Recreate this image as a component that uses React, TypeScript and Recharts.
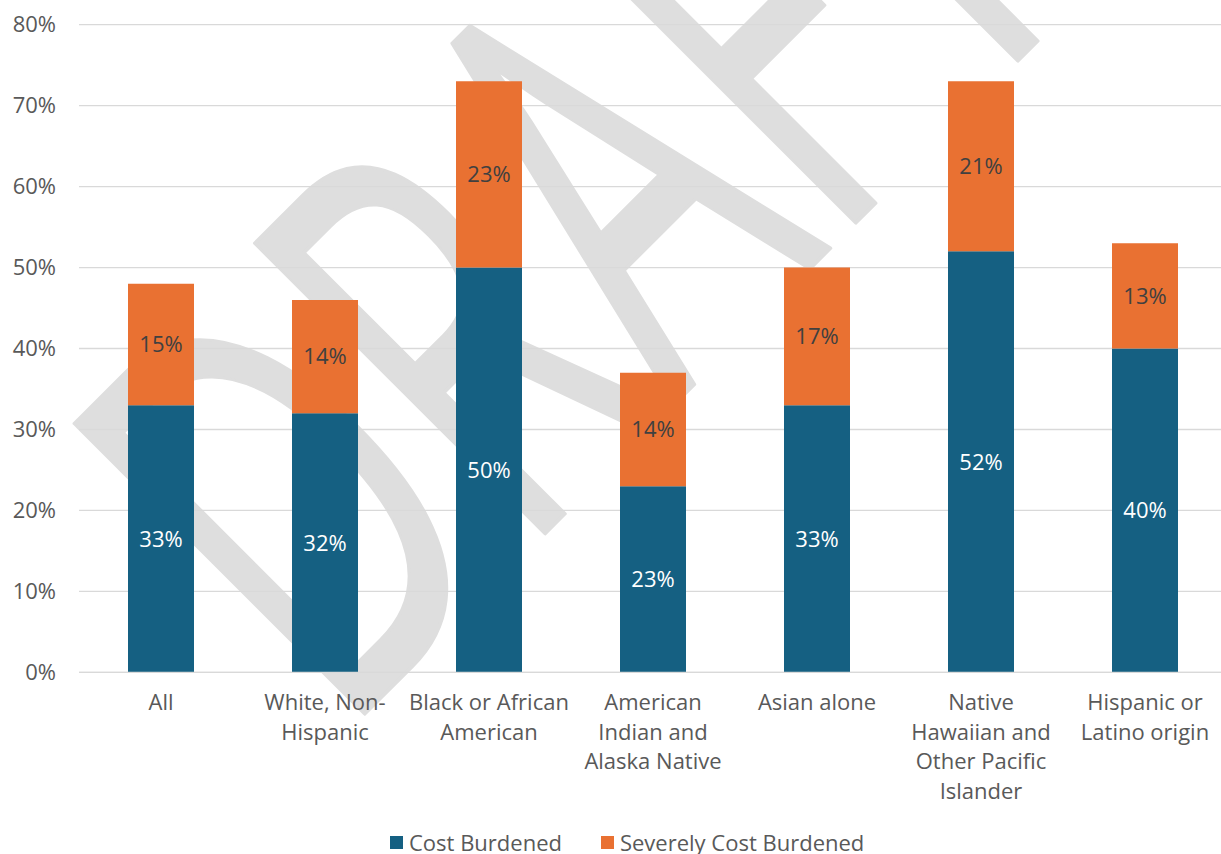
import React from 'react';
import { BarChart, Bar, XAxis, YAxis, CartesianGrid, LabelList, Legend } from 'recharts';

const categories = [
  'All',
  'White, Non-Hispanic',
  'Black or African American',
  'American Indian and Alaska Native',
  'Asian alone',
  'Native Hawaiian and Other Pacific Islander',
  'Hispanic or Latino origin',
];
const categoryLines: string[][] = [
  ['All'],
  ['White, Non-', 'Hispanic'],
  ['Black or African', 'American'],
  ['American', 'Indian and', 'Alaska Native'],
  ['Asian alone'],
  ['Native', 'Hawaiian and', 'Other Pacific', 'Islander'],
  ['Hispanic or', 'Latino origin'],
];
const costBurdened = [33, 32, 50, 23, 33, 52, 40];
const severelyCostBurdened = [15, 14, 23, 14, 17, 21, 13];
const yTicks = [0, 10, 20, 30, 40, 50, 60, 70, 80];
const seriesNames = ['Cost Burdened', 'Severely Cost Burdened'];
const watermarkText = 'DRAFT';

const data = categories.map((c, i) => ({
  name: c,
  cost: costBurdened[i],
  severe: severelyCostBurdened[i],
}));

const BLUE = '#156082';
const ORANGE = '#E97132';
const TEXT = '#595959';
const FONT = "'Open Sans', 'Noto Sans', sans-serif";
const FS = 22;

const CategoryTick = (props: any) => {
  const { x, y, payload } = props;
  const idx = categories.indexOf(payload.value);
  const lines = idx >= 0 ? categoryLines[idx] : [String(payload.value)];
  return (
    <g>
      {lines.map((l, i) => (
        <text
          key={i}
          x={x}
          y={y + i * 29.5}
          textAnchor="middle"
          dominantBaseline="central"
          fill={TEXT}
          fontSize={FS}
          fontFamily={FONT}
        >
          {l}
        </text>
      ))}
    </g>
  );
};

const LegendContent = () => (
  <div style={{ display: 'flex', justifyContent: 'flex-start', fontFamily: FONT, fontSize: FS, lineHeight: '22px', color: TEXT }}>
    {seriesNames.map((n, i) => (
      <div key={n} style={{ display: 'flex', alignItems: 'center', marginLeft: i === 0 ? 0 : 39 }}>
        <div style={{ width: 13, height: 13, background: i === 0 ? BLUE : ORANGE, marginRight: 6 }} />
        <span>{n}</span>
      </div>
    ))}
  </div>
);

export default function App() {
  return (
    <div style={{ position: 'absolute', left: 0, top: 0, width: 1221, height: 854, overflow: 'hidden', background: '#fff' }}>
      <svg width={1221} height={854} style={{ position: 'absolute', left: 0, top: 0 }}>
        <text
          x={0}
          y={0}
          transform="translate(340,738.6) rotate(-45) scale(0.6115,1)"
          fontSize={575}
          fontFamily={FONT}
          fill="#dedede"
          stroke="#dedede"
          strokeWidth={3}
          strokeLinejoin="round"
          vectorEffect="non-scaling-stroke"
        >
          {watermarkText}
        </text>
      </svg>
      <div style={{ position: 'absolute', left: 0, top: 0 }}>
        <BarChart
          width={1227}
          height={854}
          data={data}
          margin={{ top: 24.6, right: 0, bottom: 0, left: 0 }}
          barSize={66}
        >
          <CartesianGrid vertical={false} stroke="#d9d9d9" strokeWidth={1.3} />
          <XAxis
            dataKey="name"
            axisLine={{ stroke: '#d9d9d9', strokeWidth: 1.3 }}
            tickLine={false}
            tick={<CategoryTick />}
            interval={0}
            height={181.6}
            tickSize={0}
            tickMargin={29}
          />
          <YAxis
            domain={[0, 80]}
            ticks={yTicks}
            tickFormatter={(v: number) => `${v}%`}
            axisLine={false}
            tickLine={false}
            tickSize={0}
            tickMargin={23}
            width={79}
            tick={{ fill: TEXT, fontSize: FS, fontFamily: FONT }}
          />
          <Legend
            verticalAlign="middle"
            align="center"
            content={<LegendContent />}
            wrapperStyle={{ top: 831, left: 390, width: 800 }}
          />
          <Bar dataKey="cost" name={seriesNames[0]} stackId="a" fill={BLUE} isAnimationActive={false}>
            <LabelList
              dataKey="cost"
              position="center"
              formatter={(v: any) => `${v}%`}
              fill="#ffffff"
              fontSize={FS}
              fontFamily={FONT}
            />
          </Bar>
          <Bar dataKey="severe" name={seriesNames[1]} stackId="a" fill={ORANGE} isAnimationActive={false}>
            <LabelList
              dataKey="severe"
              position="center"
              formatter={(v: any) => `${v}%`}
              fill="#404040"
              fontSize={FS}
              fontFamily={FONT}
            />
          </Bar>
        </BarChart>
      </div>
    </div>
  );
}
